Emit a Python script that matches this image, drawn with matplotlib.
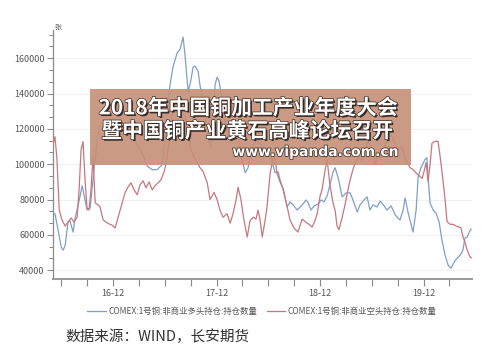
import matplotlib
matplotlib.use("Agg")
import matplotlib.pyplot as plt
import matplotlib.dates as mdates
import matplotlib.patheffects as pe
from matplotlib.ticker import AutoMinorLocator
from matplotlib.patches import Rectangle
import pandas as pd

plt.rcParams['font.family'] = ['Noto Sans CJK SC', 'DejaVu Sans']

long_label = "COMEX:1号铜:非商业多头持仓:持仓数量"
short_label = "COMEX:1号铜:非商业空头持仓:持仓数量"
unit_label = "张"
source_text = "数据来源：WIND，长安期货"
banner_line1 = "2018年中国铜加工产业年度大会"
banner_line2 = "暨中国铜产业黄石高峰论坛召开"
banner_url = "www.vipanda.com.cn"

long_dates = [
    "2016-05-03", "2016-05-10", "2016-05-21", "2016-06-01", "2016-06-08", "2016-06-15",
    "2016-06-25", "2016-07-02", "2016-07-13", "2016-07-20", "2016-07-31", "2016-08-14",
    "2016-08-21", "2016-08-31", "2016-09-11", "2016-09-21", "2016-10-06", "2016-10-16",
    "2016-10-30", "2016-11-20", "2016-12-01", "2016-12-15", "2017-01-05", "2017-01-30",
    "2017-02-10", "2017-03-06", "2017-03-31", "2017-04-18", "2017-05-05", "2017-05-23",
    "2017-06-02", "2017-06-09", "2017-06-20", "2017-07-01", "2017-07-15", "2017-07-25",
    "2017-08-05", "2017-08-12", "2017-08-23", "2017-09-02", "2017-09-09", "2017-09-16",
    "2017-09-27", "2017-10-04", "2017-10-14", "2017-10-25", "2017-11-01", "2017-11-12",
    "2017-11-19", "2017-11-26", "2017-12-03", "2017-12-10", "2017-12-17", "2017-12-27",
    "2018-01-07", "2018-01-18", "2018-01-28", "2018-02-08", "2018-02-18", "2018-03-01",
    "2018-03-12", "2018-03-22", "2018-03-29", "2018-04-12", "2018-04-23", "2018-05-07",
    "2018-05-21", "2018-06-08", "2018-06-18", "2018-06-25", "2018-07-06", "2018-07-13",
    "2018-07-24", "2018-08-07", "2018-08-17", "2018-08-28", "2018-09-11", "2018-09-22",
    "2018-10-02", "2018-10-13", "2018-10-20", "2018-10-30", "2018-11-10", "2018-11-24",
    "2018-12-05", "2018-12-15", "2018-12-26", "2019-01-05", "2019-01-16", "2019-01-23",
    "2019-02-03", "2019-02-17", "2019-03-03", "2019-03-17", "2019-03-27", "2019-04-11",
    "2019-04-21", "2019-05-05", "2019-05-16", "2019-05-26", "2019-06-06", "2019-06-20",
    "2019-07-01", "2019-07-15", "2019-07-25", "2019-08-09", "2019-08-23", "2019-09-09",
    "2019-09-20", "2019-09-27", "2019-10-07", "2019-10-25", "2019-11-05", "2019-11-12",
    "2019-11-22", "2019-12-06", "2019-12-13", "2019-12-17", "2019-12-24", "2020-01-04",
    "2020-01-14", "2020-01-25", "2020-02-04", "2020-02-15", "2020-02-26", "2020-03-07",
    "2020-03-18", "2020-03-28", "2020-04-08", "2020-04-18", "2020-04-25", "2020-05-03",
    "2020-05-10", "2020-05-17",
]
long_values = [
    72400, 71900, 62800, 53100, 51400, 54200,
    67300, 67900, 61600, 69600, 77000, 87800,
    82100, 74100, 75300, 91200, 113900, 122000,
    121000, 118000, 114000, 115000, 116000, 115000,
    114000, 109000, 99000, 96900, 96900, 99700,
    113900, 131000, 145200, 155500, 163000, 165000,
    171900, 161100, 140700, 148100, 154900, 155500,
    152600, 144100, 136700, 122500, 113900, 109400,
    125300, 145200, 149200, 146900, 139500, 126400,
    119600, 117900, 115600, 117900, 113900, 102600,
    95200, 98000, 104300, 111100, 113900, 111100,
    105400, 104300, 99700, 95200, 95800, 91200,
    85500, 75800, 78700, 77000, 74100, 75800,
    77500, 79800, 78100, 74100, 76400, 77500,
    79800, 78700, 82100, 88300, 95700, 98000,
    92300, 81500, 83800, 83800, 79800, 73000,
    77000, 79800, 81500, 74100, 77000, 75800,
    79200, 76400, 74100, 76400, 71300, 68400,
    74100, 81000, 73000, 61600, 74100, 92900,
    98000, 102600, 103700, 92900, 78100, 74100,
    72400, 67300, 57100, 48500, 42800, 41100,
    44600, 46800, 48500, 51400, 58200, 58800,
    61600, 63300,
]

short_dates = [
    "2016-05-03", "2016-05-10", "2016-05-17", "2016-05-25", "2016-06-04", "2016-06-15",
    "2016-06-25", "2016-07-06", "2016-07-16", "2016-07-27", "2016-08-03", "2016-08-10",
    "2016-08-17", "2016-08-24", "2016-08-31", "2016-09-07", "2016-09-14", "2016-09-21",
    "2016-09-29", "2016-10-09", "2016-10-16", "2016-10-27", "2016-11-06", "2016-11-17",
    "2016-11-27", "2016-12-08", "2016-12-19", "2017-01-02", "2017-01-12", "2017-01-23",
    "2017-02-02", "2017-02-13", "2017-02-24", "2017-03-06", "2017-03-17", "2017-03-27",
    "2017-04-07", "2017-04-18", "2017-04-28", "2017-05-09", "2017-05-19", "2017-05-30",
    "2017-06-09", "2017-06-20", "2017-07-01", "2017-07-11", "2017-07-25", "2017-08-12",
    "2017-08-23", "2017-09-02", "2017-09-13", "2017-09-23", "2017-10-04", "2017-10-14",
    "2017-10-29", "2017-11-08", "2017-11-22", "2017-12-03", "2017-12-13", "2017-12-24",
    "2018-01-07", "2018-01-18", "2018-01-28", "2018-02-08", "2018-02-15", "2018-02-25",
    "2018-03-08", "2018-03-19", "2018-03-29", "2018-04-09", "2018-04-19", "2018-04-26",
    "2018-05-03", "2018-05-11", "2018-05-21", "2018-05-28", "2018-06-08", "2018-06-18",
    "2018-06-25", "2018-07-02", "2018-07-13", "2018-07-24", "2018-08-07", "2018-08-17",
    "2018-08-31", "2018-09-14", "2018-09-29", "2018-10-13", "2018-10-23", "2018-11-03",
    "2018-11-13", "2018-11-21", "2018-12-01", "2018-12-08", "2018-12-19", "2018-12-26",
    "2019-01-05", "2019-01-16", "2019-01-23", "2019-01-30", "2019-02-06", "2019-02-17",
    "2019-02-27", "2019-03-10", "2019-03-17", "2019-03-27", "2019-04-04", "2019-04-14",
    "2019-04-28", "2019-05-09", "2019-05-19", "2019-06-02", "2019-06-13", "2019-06-24",
    "2019-07-04", "2019-07-18", "2019-07-29", "2019-08-05", "2019-08-16", "2019-08-26",
    "2019-09-06", "2019-09-16", "2019-09-27", "2019-10-04", "2019-10-15", "2019-10-25",
    "2019-11-05", "2019-11-12", "2019-11-19", "2019-11-26", "2019-12-03", "2019-12-10",
    "2019-12-17", "2019-12-24", "2019-12-31", "2020-01-11", "2020-01-21", "2020-01-28",
    "2020-02-04", "2020-02-15", "2020-02-22", "2020-03-04", "2020-03-14", "2020-03-25",
    "2020-04-04", "2020-04-11", "2020-04-18", "2020-04-25", "2020-05-03", "2020-05-13",
    "2020-05-20",
]
short_values = [
    111100, 115600, 102600, 74100, 68400, 65000,
    67300, 69600, 67300, 70100, 85500, 108200,
    112800, 91200, 75300, 74100, 85500, 104300,
    78100, 77000, 75800, 68400, 67300, 66200,
    65600, 63900, 70100, 78100, 83800, 87200,
    89500, 85500, 82700, 88300, 90600, 86600,
    90000, 85500, 87800, 89500, 91200, 95700,
    102600, 119600, 133000, 137000, 130000, 127000,
    118000, 108000, 104000, 101000, 98000, 96000,
    89500, 80000, 84000, 80000, 74000, 70000,
    72000, 66600, 72000, 80000, 87000, 80000,
    68000, 58800, 68000, 70000, 69000, 74000,
    69000, 58800, 68000, 76000, 95000, 103000,
    104000, 95000, 90000, 86000, 76000, 68500,
    64000, 61600, 69000, 67000, 66000, 64500,
    68000, 72000, 82000, 85500, 97000, 102600,
    88000, 78000, 74000, 65000, 63000, 70000,
    77000, 86000, 91000, 97000, 100800, 104000,
    102000, 108000, 113000, 108000, 100000, 105000,
    103000, 110000, 115000, 118000, 114000, 111000,
    108000, 110000, 103000, 101000, 98000, 97000,
    95000, 94000, 93000, 92000, 96000, 101000,
    90000, 100000, 112000, 113000, 113000, 105000,
    96000, 80000, 67500, 66000, 66000, 65000,
    64500, 64000, 59000, 56000, 51500, 47500,
    47000,
]

y_ticks = [40000, 60000, 80000, 100000, 120000, 140000, 160000]

fig = plt.figure(figsize=(5.0, 3.56), dpi=100)
ax = fig.add_axes([0.106, 0.216, 0.838, 0.700])

ld = pd.to_datetime(long_dates)
sd = pd.to_datetime(short_dates)
line_long, = ax.plot(ld, long_values, color="#7f9fc9", lw=0.9, zorder=3)
line_short, = ax.plot(sd, short_values, color="#c8777c", lw=0.9, zorder=3)

ax.set_xlim(pd.Timestamp("2016-05-03"), pd.Timestamp("2020-05-20"))
ax.set_ylim(35000, 176000)
ax.set_yticks(y_ticks)
ax.yaxis.set_minor_locator(AutoMinorLocator(3))
ax.yaxis.set_major_formatter(matplotlib.ticker.FuncFormatter(lambda v, p: f"{int(v)}"))
ax.xaxis.set_major_locator(mdates.MonthLocator(bymonth=[12], bymonthday=1))
ax.xaxis.set_minor_locator(mdates.MonthLocator(bymonth=[3, 6, 9], bymonthday=1))
ax.xaxis.set_major_formatter(mdates.DateFormatter("%y-%m"))

for s in ["top", "right"]:
    ax.spines[s].set_visible(False)
ax.spines["left"].set_color("#8a8a8a")
ax.spines["left"].set_linewidth(0.9)
ax.spines["bottom"].set_color("#9a9a9a")
ax.spines["bottom"].set_linewidth(1.4)

ax.tick_params(axis="y", which="major", direction="out", length=4, width=0.8,
               color="#8a8a8a", labelsize=6.5, labelcolor="#555555", pad=2)
ax.tick_params(axis="y", which="minor", direction="out", length=3, width=0.7, color="#8a8a8a")
ax.tick_params(axis="x", which="both", direction="out", length=5, width=0.8,
               color="#8a8a8a", labelsize=6.5, labelcolor="#555555", pad=2)

ax.grid(axis="y", which="major", color="#eeeeee", lw=0.6, zorder=0)
ax.set_axisbelow(True)

fig.text(0.108, 0.922, unit_label, fontsize=5, color="#555555", ha="left", va="center")

# banner watermark
fig.patches.append(Rectangle((0.180, 0.5365), 0.642, 0.2135, transform=fig.transFigure,
                             facecolor="#c68f78", edgecolor="none", alpha=0.9, zorder=5))
effects = [pe.withSimplePatchShadow(offset=(1.2, -1.2), shadow_rgbFace="#222222", alpha=0.9),
           pe.withStroke(linewidth=1.0, foreground="#3a2a22")]
fig.text(0.497, 0.697, banner_line1, fontsize=15, fontweight="bold", color="white",
         ha="center", va="center", zorder=6, path_effects=effects)
fig.text(0.495, 0.632, banner_line2, fontsize=15, fontweight="bold", color="white",
         ha="center", va="center", zorder=6, path_effects=effects)
fig.text(0.797, 0.573, banner_url, fontsize=10, fontweight="bold", color="white",
         ha="right", va="center", zorder=6, family=["DejaVu Sans"],
         path_effects=[pe.withStroke(linewidth=1.2, foreground="#4a3a32")])

fig.legend([line_long, line_short], [long_label, short_label], loc="center",
           bbox_to_anchor=(0.524, 0.126), ncol=2, frameon=False, fontsize=6,
           handlelength=2.2, handletextpad=0.3, columnspacing=1.2, labelcolor="#555555")

fig.text(0.13, 0.053, source_text, fontsize=10.5, color="#333333", ha="left", va="center")

fig.savefig("out.png", dpi=100, facecolor="white")
